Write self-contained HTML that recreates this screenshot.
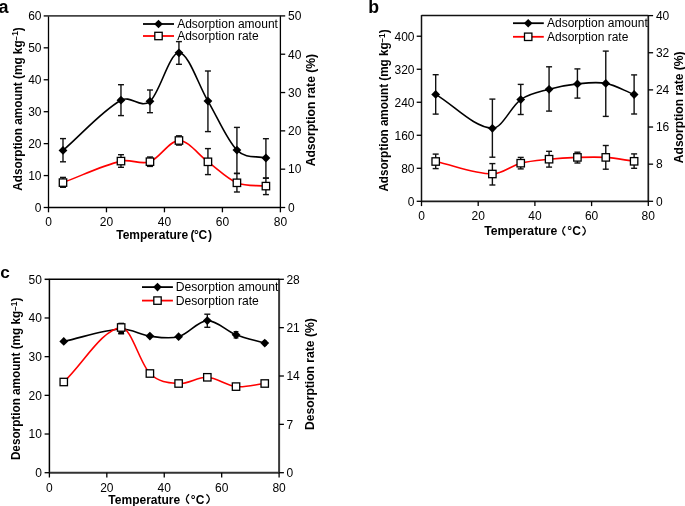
<!DOCTYPE html>
<html><head><meta charset="utf-8"><style>
html,body{margin:0;padding:0;background:#fff;overflow:hidden;}
svg{display:block;}
text{font-family:"Liberation Sans", sans-serif;fill:#000;}
#T{filter:grayscale(1);}
</style></head><body>
<svg width="685" height="506" viewBox="0 0 685 506">
<rect width="685" height="506" fill="#fff"/>
<line x1="48.50" y1="15.40" x2="48.50" y2="208.00" stroke="#000" stroke-width="1.3"/>
<line x1="280.40" y1="15.40" x2="280.40" y2="208.00" stroke="#000" stroke-width="1.3"/>
<line x1="48.50" y1="207.50" x2="280.40" y2="207.50" stroke="#000" stroke-width="1.3"/>
<line x1="48.50" y1="15.90" x2="280.40" y2="15.90" stroke="#444" stroke-width="1.8"/>
<line x1="43.70" y1="207.50" x2="48.50" y2="207.50" stroke="#000" stroke-width="1.3"/>
<line x1="43.70" y1="175.57" x2="48.50" y2="175.57" stroke="#000" stroke-width="1.3"/>
<line x1="43.70" y1="143.63" x2="48.50" y2="143.63" stroke="#000" stroke-width="1.3"/>
<line x1="43.70" y1="111.70" x2="48.50" y2="111.70" stroke="#000" stroke-width="1.3"/>
<line x1="43.70" y1="79.77" x2="48.50" y2="79.77" stroke="#000" stroke-width="1.3"/>
<line x1="43.70" y1="47.83" x2="48.50" y2="47.83" stroke="#000" stroke-width="1.3"/>
<line x1="43.70" y1="15.90" x2="48.50" y2="15.90" stroke="#444" stroke-width="1.8"/>
<line x1="280.40" y1="207.50" x2="285.20" y2="207.50" stroke="#000" stroke-width="1.3"/>
<line x1="280.40" y1="169.18" x2="285.20" y2="169.18" stroke="#000" stroke-width="1.3"/>
<line x1="280.40" y1="130.86" x2="285.20" y2="130.86" stroke="#000" stroke-width="1.3"/>
<line x1="280.40" y1="92.54" x2="285.20" y2="92.54" stroke="#000" stroke-width="1.3"/>
<line x1="280.40" y1="54.22" x2="285.20" y2="54.22" stroke="#000" stroke-width="1.3"/>
<line x1="280.40" y1="15.90" x2="285.20" y2="15.90" stroke="#000" stroke-width="1.3"/>
<line x1="48.50" y1="207.50" x2="48.50" y2="212.30" stroke="#000" stroke-width="1.3"/>
<line x1="106.47" y1="207.50" x2="106.47" y2="212.30" stroke="#000" stroke-width="1.3"/>
<line x1="164.45" y1="207.50" x2="164.45" y2="212.30" stroke="#000" stroke-width="1.3"/>
<line x1="222.42" y1="207.50" x2="222.42" y2="212.30" stroke="#000" stroke-width="1.3"/>
<line x1="280.40" y1="207.50" x2="280.40" y2="212.30" stroke="#000" stroke-width="1.3"/>
<path d="M62.99,150.40 C82.32,133.67 101.64,111.11 120.97,100.20 C130.63,94.74 140.29,109.20 149.96,101.30 C159.62,93.40 169.28,52.83 178.94,52.80 C188.61,52.77 198.27,84.88 207.93,101.10 C217.59,117.32 227.26,140.62 236.92,150.10 C246.58,159.58 256.24,155.37 265.91,158.00" fill="none" stroke="#000" stroke-width="1.6"/>
<path d="M62.99,182.60 C82.32,175.43 101.64,165.74 120.97,161.10 C130.63,158.78 140.29,165.13 149.96,161.70 C159.62,158.27 169.28,140.48 178.94,140.50 C188.61,140.52 198.27,154.75 207.93,161.80 C217.59,168.85 227.26,178.75 236.92,182.80 C246.58,186.85 256.24,185.00 265.91,186.10" fill="none" stroke="#ff0000" stroke-width="1.6"/>
<line x1="62.99" y1="138.60" x2="62.99" y2="161.80" stroke="#111" stroke-width="1.4"/>
<line x1="59.99" y1="138.60" x2="65.99" y2="138.60" stroke="#111" stroke-width="1.4"/>
<line x1="59.99" y1="161.80" x2="65.99" y2="161.80" stroke="#111" stroke-width="1.4"/>
<line x1="120.97" y1="84.70" x2="120.97" y2="115.60" stroke="#111" stroke-width="1.4"/>
<line x1="117.97" y1="84.70" x2="123.97" y2="84.70" stroke="#111" stroke-width="1.4"/>
<line x1="117.97" y1="115.60" x2="123.97" y2="115.60" stroke="#111" stroke-width="1.4"/>
<line x1="149.96" y1="90.00" x2="149.96" y2="112.70" stroke="#111" stroke-width="1.4"/>
<line x1="146.96" y1="90.00" x2="152.96" y2="90.00" stroke="#111" stroke-width="1.4"/>
<line x1="146.96" y1="112.70" x2="152.96" y2="112.70" stroke="#111" stroke-width="1.4"/>
<line x1="178.94" y1="41.60" x2="178.94" y2="64.30" stroke="#111" stroke-width="1.4"/>
<line x1="175.94" y1="41.60" x2="181.94" y2="41.60" stroke="#111" stroke-width="1.4"/>
<line x1="175.94" y1="64.30" x2="181.94" y2="64.30" stroke="#111" stroke-width="1.4"/>
<line x1="207.93" y1="71.00" x2="207.93" y2="131.60" stroke="#111" stroke-width="1.4"/>
<line x1="204.93" y1="71.00" x2="210.93" y2="71.00" stroke="#111" stroke-width="1.4"/>
<line x1="204.93" y1="131.60" x2="210.93" y2="131.60" stroke="#111" stroke-width="1.4"/>
<line x1="236.92" y1="127.40" x2="236.92" y2="173.30" stroke="#111" stroke-width="1.4"/>
<line x1="233.92" y1="127.40" x2="239.92" y2="127.40" stroke="#111" stroke-width="1.4"/>
<line x1="233.92" y1="173.30" x2="239.92" y2="173.30" stroke="#111" stroke-width="1.4"/>
<line x1="265.91" y1="138.70" x2="265.91" y2="178.20" stroke="#111" stroke-width="1.4"/>
<line x1="262.91" y1="138.70" x2="268.91" y2="138.70" stroke="#111" stroke-width="1.4"/>
<line x1="262.91" y1="178.20" x2="268.91" y2="178.20" stroke="#111" stroke-width="1.4"/>
<path d="M62.99,146.00 L67.39,150.40 L62.99,154.80 L58.59,150.40 Z" fill="#000"/>
<path d="M120.97,95.80 L125.37,100.20 L120.97,104.60 L116.57,100.20 Z" fill="#000"/>
<path d="M149.96,96.90 L154.36,101.30 L149.96,105.70 L145.56,101.30 Z" fill="#000"/>
<path d="M178.94,48.40 L183.34,52.80 L178.94,57.20 L174.54,52.80 Z" fill="#000"/>
<path d="M207.93,96.70 L212.33,101.10 L207.93,105.50 L203.53,101.10 Z" fill="#000"/>
<path d="M236.92,145.70 L241.32,150.10 L236.92,154.50 L232.52,150.10 Z" fill="#000"/>
<path d="M265.91,153.60 L270.31,158.00 L265.91,162.40 L261.51,158.00 Z" fill="#000"/>
<line x1="62.99" y1="177.40" x2="62.99" y2="187.30" stroke="#111" stroke-width="1.4"/>
<line x1="59.99" y1="177.40" x2="65.99" y2="177.40" stroke="#111" stroke-width="1.4"/>
<line x1="59.99" y1="187.30" x2="65.99" y2="187.30" stroke="#111" stroke-width="1.4"/>
<line x1="120.97" y1="154.70" x2="120.97" y2="167.30" stroke="#111" stroke-width="1.4"/>
<line x1="117.97" y1="154.70" x2="123.97" y2="154.70" stroke="#111" stroke-width="1.4"/>
<line x1="117.97" y1="167.30" x2="123.97" y2="167.30" stroke="#111" stroke-width="1.4"/>
<line x1="149.96" y1="157.00" x2="149.96" y2="166.40" stroke="#111" stroke-width="1.4"/>
<line x1="146.96" y1="157.00" x2="152.96" y2="157.00" stroke="#111" stroke-width="1.4"/>
<line x1="146.96" y1="166.40" x2="152.96" y2="166.40" stroke="#111" stroke-width="1.4"/>
<line x1="178.94" y1="135.80" x2="178.94" y2="145.10" stroke="#111" stroke-width="1.4"/>
<line x1="175.94" y1="135.80" x2="181.94" y2="135.80" stroke="#111" stroke-width="1.4"/>
<line x1="175.94" y1="145.10" x2="181.94" y2="145.10" stroke="#111" stroke-width="1.4"/>
<line x1="207.93" y1="148.60" x2="207.93" y2="174.60" stroke="#111" stroke-width="1.4"/>
<line x1="204.93" y1="148.60" x2="210.93" y2="148.60" stroke="#111" stroke-width="1.4"/>
<line x1="204.93" y1="174.60" x2="210.93" y2="174.60" stroke="#111" stroke-width="1.4"/>
<line x1="236.92" y1="173.60" x2="236.92" y2="192.00" stroke="#111" stroke-width="1.4"/>
<line x1="233.92" y1="173.60" x2="239.92" y2="173.60" stroke="#111" stroke-width="1.4"/>
<line x1="233.92" y1="192.00" x2="239.92" y2="192.00" stroke="#111" stroke-width="1.4"/>
<line x1="265.91" y1="178.00" x2="265.91" y2="194.60" stroke="#111" stroke-width="1.4"/>
<line x1="262.91" y1="178.00" x2="268.91" y2="178.00" stroke="#111" stroke-width="1.4"/>
<line x1="262.91" y1="194.60" x2="268.91" y2="194.60" stroke="#111" stroke-width="1.4"/>
<rect x="59.29" y="178.90" width="7.4" height="7.4" fill="#fff" stroke="#000" stroke-width="1.3"/>
<rect x="117.27" y="157.40" width="7.4" height="7.4" fill="#fff" stroke="#000" stroke-width="1.3"/>
<rect x="146.26" y="158.00" width="7.4" height="7.4" fill="#fff" stroke="#000" stroke-width="1.3"/>
<rect x="175.24" y="136.80" width="7.4" height="7.4" fill="#fff" stroke="#000" stroke-width="1.3"/>
<rect x="204.23" y="158.10" width="7.4" height="7.4" fill="#fff" stroke="#000" stroke-width="1.3"/>
<rect x="233.22" y="179.10" width="7.4" height="7.4" fill="#fff" stroke="#000" stroke-width="1.3"/>
<rect x="262.21" y="182.40" width="7.4" height="7.4" fill="#fff" stroke="#000" stroke-width="1.3"/>
<line x1="143.00" y1="24.00" x2="174.00" y2="24.00" stroke="#000" stroke-width="1.8"/>
<path d="M158.5,19.7 L162.8,24 L158.5,28.3 L154.2,24 Z" fill="#000"/>
<line x1="143.00" y1="36.00" x2="174.00" y2="36.00" stroke="#ff0000" stroke-width="1.8"/>
<rect x="154.8" y="32.3" width="7.4" height="7.4" fill="#fff" stroke="#000" stroke-width="1.3"/>
<line x1="421.50" y1="15.10" x2="421.50" y2="201.80" stroke="#111" stroke-width="1.5"/>
<line x1="648.30" y1="15.10" x2="648.30" y2="201.80" stroke="#1a1a1a" stroke-width="1.7"/>
<line x1="421.50" y1="201.30" x2="648.30" y2="201.30" stroke="#1a1a1a" stroke-width="1.7"/>
<line x1="421.50" y1="15.60" x2="648.30" y2="15.60" stroke="#111" stroke-width="1.5"/>
<line x1="416.70" y1="201.30" x2="421.50" y2="201.30" stroke="#000" stroke-width="1.3"/>
<line x1="416.70" y1="168.29" x2="421.50" y2="168.29" stroke="#000" stroke-width="1.3"/>
<line x1="416.70" y1="135.27" x2="421.50" y2="135.27" stroke="#000" stroke-width="1.3"/>
<line x1="416.70" y1="102.26" x2="421.50" y2="102.26" stroke="#000" stroke-width="1.3"/>
<line x1="416.70" y1="69.25" x2="421.50" y2="69.25" stroke="#000" stroke-width="1.3"/>
<line x1="416.70" y1="36.23" x2="421.50" y2="36.23" stroke="#000" stroke-width="1.3"/>
<line x1="648.30" y1="201.30" x2="653.10" y2="201.30" stroke="#000" stroke-width="1.3"/>
<line x1="648.30" y1="164.16" x2="653.10" y2="164.16" stroke="#000" stroke-width="1.3"/>
<line x1="648.30" y1="127.02" x2="653.10" y2="127.02" stroke="#000" stroke-width="1.3"/>
<line x1="648.30" y1="89.88" x2="653.10" y2="89.88" stroke="#000" stroke-width="1.3"/>
<line x1="648.30" y1="52.74" x2="653.10" y2="52.74" stroke="#000" stroke-width="1.3"/>
<line x1="648.30" y1="15.60" x2="653.10" y2="15.60" stroke="#000" stroke-width="1.3"/>
<line x1="421.50" y1="201.30" x2="421.50" y2="206.10" stroke="#000" stroke-width="1.3"/>
<line x1="478.20" y1="201.30" x2="478.20" y2="206.10" stroke="#000" stroke-width="1.3"/>
<line x1="534.90" y1="201.30" x2="534.90" y2="206.10" stroke="#000" stroke-width="1.3"/>
<line x1="591.60" y1="201.30" x2="591.60" y2="206.10" stroke="#000" stroke-width="1.3"/>
<line x1="648.30" y1="201.30" x2="648.30" y2="206.10" stroke="#000" stroke-width="1.3"/>
<path d="M565.30,226.30 Q560.00,230.90 565.30,235.50" fill="none" stroke="#000" stroke-width="1.3"/>
<path d="M582.45,226.30 Q588.25,230.90 582.45,235.50" fill="none" stroke="#000" stroke-width="1.3"/>
<path d="M435.68,94.40 C454.57,105.70 473.48,127.14 492.38,128.30 C501.82,128.88 511.28,106.10 520.73,99.60 C530.17,93.10 539.62,91.92 549.07,89.30 C558.52,86.68 567.97,84.88 577.42,83.90 C586.88,82.92 596.32,81.63 605.77,83.40 C615.23,85.17 624.67,90.80 634.12,94.50" fill="none" stroke="#000" stroke-width="1.6"/>
<path d="M435.68,161.50 C454.57,165.67 473.48,173.62 492.38,174.00 C501.82,174.19 511.28,165.67 520.73,163.20 C530.17,160.73 539.62,160.17 549.07,159.20 C558.52,158.23 567.97,157.70 577.42,157.40 C586.88,157.10 596.32,156.75 605.77,157.40 C615.23,158.05 624.67,160.00 634.12,161.30" fill="none" stroke="#ff0000" stroke-width="1.6"/>
<line x1="435.68" y1="74.70" x2="435.68" y2="114.10" stroke="#111" stroke-width="1.4"/>
<line x1="432.68" y1="74.70" x2="438.68" y2="74.70" stroke="#111" stroke-width="1.4"/>
<line x1="432.68" y1="114.10" x2="438.68" y2="114.10" stroke="#111" stroke-width="1.4"/>
<line x1="492.38" y1="99.10" x2="492.38" y2="157.20" stroke="#111" stroke-width="1.4"/>
<line x1="489.38" y1="99.10" x2="495.38" y2="99.10" stroke="#111" stroke-width="1.4"/>
<line x1="489.38" y1="157.20" x2="495.38" y2="157.20" stroke="#111" stroke-width="1.4"/>
<line x1="520.73" y1="84.40" x2="520.73" y2="114.50" stroke="#111" stroke-width="1.4"/>
<line x1="517.73" y1="84.40" x2="523.73" y2="84.40" stroke="#111" stroke-width="1.4"/>
<line x1="517.73" y1="114.50" x2="523.73" y2="114.50" stroke="#111" stroke-width="1.4"/>
<line x1="549.07" y1="66.80" x2="549.07" y2="111.10" stroke="#111" stroke-width="1.4"/>
<line x1="546.07" y1="66.80" x2="552.07" y2="66.80" stroke="#111" stroke-width="1.4"/>
<line x1="546.07" y1="111.10" x2="552.07" y2="111.10" stroke="#111" stroke-width="1.4"/>
<line x1="577.42" y1="68.90" x2="577.42" y2="98.10" stroke="#111" stroke-width="1.4"/>
<line x1="574.42" y1="68.90" x2="580.42" y2="68.90" stroke="#111" stroke-width="1.4"/>
<line x1="574.42" y1="98.10" x2="580.42" y2="98.10" stroke="#111" stroke-width="1.4"/>
<line x1="605.77" y1="51.10" x2="605.77" y2="116.40" stroke="#111" stroke-width="1.4"/>
<line x1="602.77" y1="51.10" x2="608.77" y2="51.10" stroke="#111" stroke-width="1.4"/>
<line x1="602.77" y1="116.40" x2="608.77" y2="116.40" stroke="#111" stroke-width="1.4"/>
<line x1="634.12" y1="74.90" x2="634.12" y2="114.00" stroke="#111" stroke-width="1.4"/>
<line x1="631.12" y1="74.90" x2="637.12" y2="74.90" stroke="#111" stroke-width="1.4"/>
<line x1="631.12" y1="114.00" x2="637.12" y2="114.00" stroke="#111" stroke-width="1.4"/>
<path d="M435.68,90.00 L440.07,94.40 L435.68,98.80 L431.28,94.40 Z" fill="#000"/>
<path d="M492.38,123.90 L496.77,128.30 L492.38,132.70 L487.98,128.30 Z" fill="#000"/>
<path d="M520.73,95.20 L525.12,99.60 L520.73,104.00 L516.33,99.60 Z" fill="#000"/>
<path d="M549.07,84.90 L553.47,89.30 L549.07,93.70 L544.67,89.30 Z" fill="#000"/>
<path d="M577.42,79.50 L581.82,83.90 L577.42,88.30 L573.02,83.90 Z" fill="#000"/>
<path d="M605.77,79.00 L610.17,83.40 L605.77,87.80 L601.38,83.40 Z" fill="#000"/>
<path d="M634.12,90.10 L638.52,94.50 L634.12,98.90 L629.73,94.50 Z" fill="#000"/>
<line x1="435.68" y1="154.10" x2="435.68" y2="168.60" stroke="#111" stroke-width="1.4"/>
<line x1="432.68" y1="154.10" x2="438.68" y2="154.10" stroke="#111" stroke-width="1.4"/>
<line x1="432.68" y1="168.60" x2="438.68" y2="168.60" stroke="#111" stroke-width="1.4"/>
<line x1="492.38" y1="163.60" x2="492.38" y2="185.00" stroke="#111" stroke-width="1.4"/>
<line x1="489.38" y1="163.60" x2="495.38" y2="163.60" stroke="#111" stroke-width="1.4"/>
<line x1="489.38" y1="185.00" x2="495.38" y2="185.00" stroke="#111" stroke-width="1.4"/>
<line x1="520.73" y1="157.40" x2="520.73" y2="168.90" stroke="#111" stroke-width="1.4"/>
<line x1="517.73" y1="157.40" x2="523.73" y2="157.40" stroke="#111" stroke-width="1.4"/>
<line x1="517.73" y1="168.90" x2="523.73" y2="168.90" stroke="#111" stroke-width="1.4"/>
<line x1="549.07" y1="151.30" x2="549.07" y2="167.10" stroke="#111" stroke-width="1.4"/>
<line x1="546.07" y1="151.30" x2="552.07" y2="151.30" stroke="#111" stroke-width="1.4"/>
<line x1="546.07" y1="167.10" x2="552.07" y2="167.10" stroke="#111" stroke-width="1.4"/>
<line x1="577.42" y1="152.20" x2="577.42" y2="163.00" stroke="#111" stroke-width="1.4"/>
<line x1="574.42" y1="152.20" x2="580.42" y2="152.20" stroke="#111" stroke-width="1.4"/>
<line x1="574.42" y1="163.00" x2="580.42" y2="163.00" stroke="#111" stroke-width="1.4"/>
<line x1="605.77" y1="145.50" x2="605.77" y2="169.20" stroke="#111" stroke-width="1.4"/>
<line x1="602.77" y1="145.50" x2="608.77" y2="145.50" stroke="#111" stroke-width="1.4"/>
<line x1="602.77" y1="169.20" x2="608.77" y2="169.20" stroke="#111" stroke-width="1.4"/>
<line x1="634.12" y1="153.90" x2="634.12" y2="168.30" stroke="#111" stroke-width="1.4"/>
<line x1="631.12" y1="153.90" x2="637.12" y2="153.90" stroke="#111" stroke-width="1.4"/>
<line x1="631.12" y1="168.30" x2="637.12" y2="168.30" stroke="#111" stroke-width="1.4"/>
<rect x="431.98" y="157.80" width="7.4" height="7.4" fill="#fff" stroke="#000" stroke-width="1.3"/>
<rect x="488.68" y="170.30" width="7.4" height="7.4" fill="#fff" stroke="#000" stroke-width="1.3"/>
<rect x="517.02" y="159.50" width="7.4" height="7.4" fill="#fff" stroke="#000" stroke-width="1.3"/>
<rect x="545.37" y="155.50" width="7.4" height="7.4" fill="#fff" stroke="#000" stroke-width="1.3"/>
<rect x="573.72" y="153.70" width="7.4" height="7.4" fill="#fff" stroke="#000" stroke-width="1.3"/>
<rect x="602.07" y="153.70" width="7.4" height="7.4" fill="#fff" stroke="#000" stroke-width="1.3"/>
<rect x="630.42" y="157.60" width="7.4" height="7.4" fill="#fff" stroke="#000" stroke-width="1.3"/>
<line x1="513.00" y1="23.20" x2="543.80" y2="23.20" stroke="#000" stroke-width="1.8"/>
<path d="M528.2,18.9 L532.5,23.2 L528.2,27.5 L523.9000000000001,23.2 Z" fill="#000"/>
<line x1="513.00" y1="36.80" x2="543.80" y2="36.80" stroke="#ff0000" stroke-width="1.8"/>
<rect x="524.5" y="33.099999999999994" width="7.4" height="7.4" fill="#fff" stroke="#000" stroke-width="1.3"/>
<line x1="49.40" y1="278.80" x2="49.40" y2="473.20" stroke="#000" stroke-width="1.5"/>
<line x1="279.10" y1="278.80" x2="279.10" y2="473.20" stroke="#3a3a3a" stroke-width="2"/>
<line x1="49.40" y1="472.70" x2="279.10" y2="472.70" stroke="#333" stroke-width="2"/>
<line x1="49.40" y1="279.30" x2="279.10" y2="279.30" stroke="#000" stroke-width="1.5"/>
<line x1="44.60" y1="472.70" x2="49.40" y2="472.70" stroke="#000" stroke-width="1.3"/>
<line x1="44.60" y1="434.02" x2="49.40" y2="434.02" stroke="#000" stroke-width="1.3"/>
<line x1="44.60" y1="395.34" x2="49.40" y2="395.34" stroke="#000" stroke-width="1.3"/>
<line x1="44.60" y1="356.66" x2="49.40" y2="356.66" stroke="#000" stroke-width="1.3"/>
<line x1="44.60" y1="317.98" x2="49.40" y2="317.98" stroke="#000" stroke-width="1.3"/>
<line x1="44.60" y1="279.30" x2="49.40" y2="279.30" stroke="#000" stroke-width="1.5"/>
<line x1="279.10" y1="472.70" x2="283.90" y2="472.70" stroke="#000" stroke-width="1.3"/>
<line x1="279.10" y1="424.35" x2="283.90" y2="424.35" stroke="#000" stroke-width="1.3"/>
<line x1="279.10" y1="376.00" x2="283.90" y2="376.00" stroke="#000" stroke-width="1.3"/>
<line x1="279.10" y1="327.65" x2="283.90" y2="327.65" stroke="#000" stroke-width="1.3"/>
<line x1="279.10" y1="279.30" x2="283.90" y2="279.30" stroke="#000" stroke-width="1.3"/>
<line x1="49.40" y1="472.70" x2="49.40" y2="477.50" stroke="#000" stroke-width="1.3"/>
<line x1="106.82" y1="472.70" x2="106.82" y2="477.50" stroke="#000" stroke-width="1.3"/>
<line x1="164.25" y1="472.70" x2="164.25" y2="477.50" stroke="#000" stroke-width="1.3"/>
<line x1="221.68" y1="472.70" x2="221.68" y2="477.50" stroke="#000" stroke-width="1.3"/>
<line x1="279.10" y1="472.70" x2="279.10" y2="477.50" stroke="#000" stroke-width="1.3"/>
<path d="M189.05,494.30 Q183.65,499.00 189.05,503.70" fill="none" stroke="#000" stroke-width="1.3"/>
<path d="M206.45,494.30 Q212.25,499.00 206.45,503.70" fill="none" stroke="#000" stroke-width="1.3"/>
<path d="M63.76,341.40 C82.90,337.27 102.04,330.18 121.18,329.00 C130.75,328.41 140.32,334.82 149.89,336.10 C159.46,337.38 169.04,339.28 178.61,336.70 C188.18,334.12 197.75,320.92 207.32,320.60 C216.89,320.28 226.46,331.05 236.03,334.80 C245.60,338.55 255.17,340.33 264.74,343.10" fill="none" stroke="#000" stroke-width="1.6"/>
<path d="M63.76,382.00 C82.90,363.83 102.04,329.39 121.18,327.50 C130.75,326.56 140.32,364.17 149.89,373.50 C159.46,382.83 169.04,382.87 178.61,383.50 C188.18,384.13 197.75,376.78 207.32,377.30 C216.89,377.82 226.46,385.57 236.03,386.60 C245.60,387.63 255.17,384.53 264.74,383.50" fill="none" stroke="#ff0000" stroke-width="1.6"/>
<line x1="207.32" y1="314.20" x2="207.32" y2="327.30" stroke="#111" stroke-width="1.4"/>
<line x1="204.32" y1="314.20" x2="210.32" y2="314.20" stroke="#111" stroke-width="1.4"/>
<line x1="204.32" y1="327.30" x2="210.32" y2="327.30" stroke="#111" stroke-width="1.4"/>
<line x1="236.03" y1="331.70" x2="236.03" y2="337.90" stroke="#111" stroke-width="1.4"/>
<line x1="233.63" y1="331.70" x2="238.43" y2="331.70" stroke="#111" stroke-width="1.4"/>
<line x1="233.63" y1="337.90" x2="238.43" y2="337.90" stroke="#111" stroke-width="1.4"/>
<line x1="264.74" y1="340.90" x2="264.74" y2="345.30" stroke="#111" stroke-width="1.4"/>
<line x1="262.94" y1="340.90" x2="266.54" y2="340.90" stroke="#111" stroke-width="1.4"/>
<line x1="262.94" y1="345.30" x2="266.54" y2="345.30" stroke="#111" stroke-width="1.4"/>
<path d="M63.76,337.00 L68.16,341.40 L63.76,345.80 L59.36,341.40 Z" fill="#000"/>
<path d="M121.18,324.60 L125.58,329.00 L121.18,333.40 L116.78,329.00 Z" fill="#000"/>
<path d="M149.89,331.70 L154.29,336.10 L149.89,340.50 L145.49,336.10 Z" fill="#000"/>
<path d="M178.61,332.30 L183.01,336.70 L178.61,341.10 L174.21,336.70 Z" fill="#000"/>
<path d="M207.32,316.20 L211.72,320.60 L207.32,325.00 L202.92,320.60 Z" fill="#000"/>
<path d="M236.03,330.40 L240.43,334.80 L236.03,339.20 L231.63,334.80 Z" fill="#000"/>
<path d="M264.74,338.70 L269.14,343.10 L264.74,347.50 L260.34,343.10 Z" fill="#000"/>
<line x1="121.18" y1="323.90" x2="121.18" y2="333.60" stroke="#111" stroke-width="1.4"/>
<line x1="118.18" y1="323.90" x2="124.18" y2="323.90" stroke="#111" stroke-width="1.4"/>
<line x1="118.18" y1="333.60" x2="124.18" y2="333.60" stroke="#111" stroke-width="1.4"/>
<rect x="118.4" y="331.4" width="5.6" height="2.9" fill="#000"/>
<rect x="118.4" y="322.7" width="5.6" height="2.2" fill="#000"/>
<rect x="60.06" y="378.30" width="7.4" height="7.4" fill="#fff" stroke="#000" stroke-width="1.3"/>
<rect x="117.48" y="323.80" width="7.4" height="7.4" fill="#fff" stroke="#000" stroke-width="1.3"/>
<rect x="146.19" y="369.80" width="7.4" height="7.4" fill="#fff" stroke="#000" stroke-width="1.3"/>
<rect x="174.91" y="379.80" width="7.4" height="7.4" fill="#fff" stroke="#000" stroke-width="1.3"/>
<rect x="203.62" y="373.60" width="7.4" height="7.4" fill="#fff" stroke="#000" stroke-width="1.3"/>
<rect x="232.33" y="382.90" width="7.4" height="7.4" fill="#fff" stroke="#000" stroke-width="1.3"/>
<rect x="261.04" y="379.80" width="7.4" height="7.4" fill="#fff" stroke="#000" stroke-width="1.3"/>
<line x1="142.00" y1="287.10" x2="172.90" y2="287.10" stroke="#000" stroke-width="1.8"/>
<path d="M157.5,282.8 L161.8,287.1 L157.5,291.40000000000003 L153.2,287.1 Z" fill="#000"/>
<line x1="142.00" y1="300.60" x2="172.90" y2="300.60" stroke="#ff0000" stroke-width="1.8"/>
<rect x="153.8" y="296.90000000000003" width="7.4" height="7.4" fill="#fff" stroke="#000" stroke-width="1.3"/>
<g id="T">
<text id="a_l0" x="41.50" y="211.80" font-size="12" text-anchor="end">0</text>
<text id="a_l10" x="41.50" y="179.87" font-size="12" text-anchor="end">10</text>
<text id="a_l20" x="41.50" y="147.93" font-size="12" text-anchor="end">20</text>
<text id="a_l30" x="41.50" y="116.00" font-size="12" text-anchor="end">30</text>
<text id="a_l40" x="41.50" y="84.07" font-size="12" text-anchor="end">40</text>
<text id="a_l50" x="41.50" y="52.13" font-size="12" text-anchor="end">50</text>
<text id="a_l60" x="41.50" y="20.20" font-size="12" text-anchor="end">60</text>
<text id="a_r0" x="288.00" y="211.80" font-size="12">0</text>
<text id="a_r10" x="288.00" y="173.48" font-size="12">10</text>
<text id="a_r20" x="288.00" y="135.16" font-size="12">20</text>
<text id="a_r30" x="288.00" y="96.84" font-size="12">30</text>
<text id="a_r40" x="288.00" y="58.52" font-size="12">40</text>
<text id="a_r50" x="288.00" y="20.20" font-size="12">50</text>
<text id="a_x0" x="48.50" y="226.00" font-size="12" text-anchor="middle">0</text>
<text id="a_x20" x="106.47" y="226.00" font-size="12" text-anchor="middle">20</text>
<text id="a_x40" x="164.45" y="226.00" font-size="12" text-anchor="middle">40</text>
<text id="a_x60" x="222.42" y="226.00" font-size="12" text-anchor="middle">60</text>
<text id="a_x80" x="280.40" y="226.00" font-size="12" text-anchor="middle">80</text>
<text id="a_xt" x="116.25" y="238.90" font-size="12" font-weight="bold">Temperature</text>
<text id="a_xt_lp" x="190.40" y="238.90" font-size="12" font-weight="bold">(</text>
<text id="a_xt_rp" x="208.00" y="238.90" font-size="12" font-weight="bold">)</text>
<text id="a_xt_deg" x="194.07" y="238.90" font-size="12" font-weight="bold">°</text>
<text id="a_xt_C" x="198.50" y="238.90" font-size="12" font-weight="bold">C</text>
<text id="a_yl" transform="translate(21.70,109.00) rotate(-90) scale(0.9820,1)" font-size="12" font-weight="bold" text-anchor="middle">Adsorption amount (mg kg<tspan font-size="8" dy="-2.6">−</tspan><tspan font-size="8.5" dy="-0.9">1</tspan><tspan dy="3.5">)</tspan></text>
<text id="a_yr" transform="translate(314.50,110.10) rotate(-90) scale(1.0100,1)" font-size="12" font-weight="bold" text-anchor="middle">Adsorption rate (%)</text>
<text id="a_lab" x="-1.63" y="12.67" font-size="18" font-weight="bold">a</text>
<text id="a_leg1" x="177.20" y="28.35" font-size="12">Adsorption amount</text>
<text id="a_leg2" x="177.20" y="40.35" font-size="12">Adsorption rate</text>
<text id="b_l0" x="414.50" y="205.60" font-size="12" text-anchor="end">0</text>
<text id="b_l80" x="414.50" y="172.59" font-size="12" text-anchor="end">80</text>
<text id="b_l160" x="414.50" y="139.57" font-size="12" text-anchor="end">160</text>
<text id="b_l240" x="414.50" y="106.56" font-size="12" text-anchor="end">240</text>
<text id="b_l320" x="414.50" y="73.55" font-size="12" text-anchor="end">320</text>
<text id="b_l400" x="414.50" y="40.53" font-size="12" text-anchor="end">400</text>
<text id="b_r0" x="655.90" y="205.60" font-size="12">0</text>
<text id="b_r8" x="655.90" y="168.46" font-size="12">8</text>
<text id="b_r16" x="655.90" y="131.32" font-size="12">16</text>
<text id="b_r24" x="655.90" y="94.18" font-size="12">24</text>
<text id="b_r32" x="655.90" y="57.04" font-size="12">32</text>
<text id="b_r40" x="655.90" y="19.90" font-size="12">40</text>
<text id="b_x0" x="421.50" y="220.00" font-size="12" text-anchor="middle">0</text>
<text id="b_x20" x="478.20" y="220.00" font-size="12" text-anchor="middle">20</text>
<text id="b_x40" x="534.90" y="220.00" font-size="12" text-anchor="middle">40</text>
<text id="b_x60" x="591.60" y="220.00" font-size="12" text-anchor="middle">60</text>
<text id="b_x80" x="648.30" y="220.00" font-size="12" text-anchor="middle">80</text>
<text id="b_xt" x="484.25" y="235.00" font-size="12.2" font-weight="bold">Temperature</text>
<text id="b_xt_deg" x="567.20" y="235.00" font-size="12" font-weight="bold">°</text>
<text id="b_xt_C" x="572.30" y="235.00" font-size="12" font-weight="bold">C</text>
<text id="b_yl" transform="translate(388.00,110.50) rotate(-90) scale(0.9740,1)" font-size="12" font-weight="bold" text-anchor="middle">Adsorption amount (mg kg<tspan font-size="8" dy="-2.6">−</tspan><tspan font-size="8.5" dy="-0.9">1</tspan><tspan dy="3.5">)</tspan></text>
<text id="b_yr" transform="translate(683.00,107.30) rotate(-90) scale(1.0050,1)" font-size="12" font-weight="bold" text-anchor="middle">Adsorption rate (%)</text>
<text id="b_lab" x="368.30" y="13.00" font-size="17.7" font-weight="bold">b</text>
<text id="b_leg1" x="547.00" y="27.00" font-size="12">Adsorption amount</text>
<text id="b_leg2" x="547.00" y="40.50" font-size="12">Adsorption rate</text>
<text id="c_l0" x="41.90" y="477.00" font-size="12" text-anchor="end">0</text>
<text id="c_l10" x="41.90" y="438.32" font-size="12" text-anchor="end">10</text>
<text id="c_l20" x="41.90" y="399.64" font-size="12" text-anchor="end">20</text>
<text id="c_l30" x="41.90" y="360.96" font-size="12" text-anchor="end">30</text>
<text id="c_l40" x="41.90" y="322.28" font-size="12" text-anchor="end">40</text>
<text id="c_l50" x="41.90" y="283.60" font-size="12" text-anchor="end">50</text>
<text id="c_r0" x="286.40" y="477.00" font-size="12">0</text>
<text id="c_r7" x="286.40" y="428.65" font-size="12">7</text>
<text id="c_r14" x="286.40" y="380.30" font-size="12">14</text>
<text id="c_r21" x="286.40" y="331.95" font-size="12">21</text>
<text id="c_r28" x="286.40" y="283.60" font-size="12">28</text>
<text id="c_x0" x="49.40" y="492.20" font-size="12" text-anchor="middle">0</text>
<text id="c_x20" x="106.82" y="492.20" font-size="12" text-anchor="middle">20</text>
<text id="c_x40" x="164.25" y="492.20" font-size="12" text-anchor="middle">40</text>
<text id="c_x60" x="221.68" y="492.20" font-size="12" text-anchor="middle">60</text>
<text id="c_x80" x="279.10" y="492.20" font-size="12" text-anchor="middle">80</text>
<text id="c_xt" x="108.35" y="503.50" font-size="12" font-weight="bold">Temperature</text>
<text id="c_xt_deg" x="190.80" y="503.50" font-size="12" font-weight="bold">°</text>
<text id="c_xt_C" x="195.80" y="503.50" font-size="12" font-weight="bold">C</text>
<text id="c_yl" transform="translate(20.40,378.90) rotate(-90) scale(0.9790,1)" font-size="12" font-weight="bold" text-anchor="middle">Desorption amount (mg kg<tspan font-size="8" dy="-2.6">−</tspan><tspan font-size="8.5" dy="-0.9">1</tspan><tspan dy="3.5">)</tspan></text>
<text id="c_yr" transform="translate(313.60,374.10) rotate(-90) scale(1.0090,1)" font-size="12" font-weight="bold" text-anchor="middle">Desorption rate (%)</text>
<text id="c_lab" x="0.13" y="277.60" font-size="17.2" font-weight="bold">c</text>
<text id="c_leg1" transform="translate(175.70,290.90) scale(1.0140,1)" font-size="12">Desorption amount</text>
<text id="c_leg2" transform="translate(175.70,304.80) scale(1.0140,1)" font-size="12">Desorption rate</text>
</g>
</svg></body></html>
